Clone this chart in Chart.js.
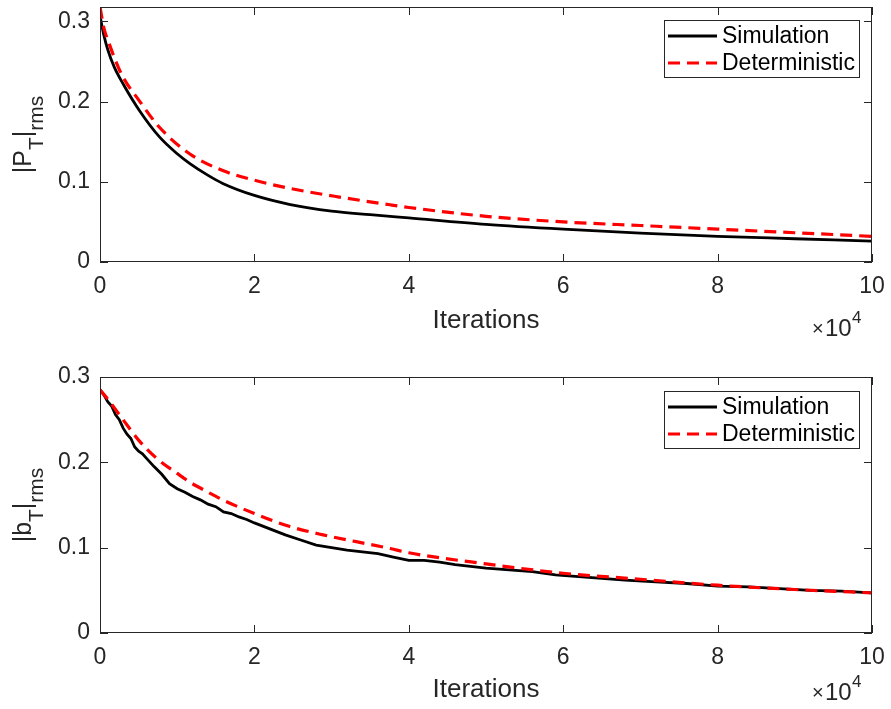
<!DOCTYPE html>
<html>
<head>
<meta charset="utf-8">
<script src="https://cdn.jsdelivr.net/npm/chart.js@4.4.1/dist/chart.umd.min.js"></script>
<style>
  body { margin: 0; background: #fff; }
  canvas { position: absolute; left: 0; }
  #top { top: 0; }
  #bot { top: 355px; }
</style>
</head>
<body>
<canvas id="top" width="891" height="350"></canvas>
<canvas id="bot" width="891" height="354"></canvas>
<script>
// iterations are in units of 1e4
const xTicks = [0, 2, 4, 6, 8, 10];
const yTicks = [0, 0.1, 0.2, 0.3];

// |P_T|_rms
const pSimX = [0, 0.05, 0.1, 0.185, 0.3, 0.51, 0.77, 1.0, 1.16, 1.4, 1.59, 2.0, 2.45, 3.0, 3.5, 4, 5, 6, 7, 8, 9, 10];
const pSimY = [0.307, 0.283, 0.265, 0.243, 0.222, 0.189, 0.156, 0.135, 0.123, 0.108, 0.098, 0.083, 0.072, 0.0635, 0.059, 0.055, 0.047, 0.041, 0.036, 0.032, 0.029, 0.026];
const pDetX = [0, 0.05, 0.12, 0.185, 0.29, 0.51, 0.77, 1.16, 1.59, 2.0, 2.45, 3.1, 3.78, 4, 5, 6, 7, 8, 9, 10];
const pDetY = [0.318, 0.292, 0.272, 0.255, 0.232, 0.201, 0.168, 0.135, 0.114, 0.102, 0.092, 0.081, 0.071, 0.068, 0.057, 0.050, 0.0455, 0.041, 0.0365, 0.032];

// |b_T|_rms
const bSimX = [0, 0.05, 0.1, 0.15, 0.2, 0.25, 0.3, 0.35, 0.4, 0.45, 0.5, 0.55, 0.6, 0.7, 0.8, 0.9, 1.0, 1.1, 1.2, 1.3, 1.4, 1.5, 1.6, 1.7, 1.8, 1.9, 2.0,
  2.2, 2.4, 2.6, 2.8, 3.0, 3.2, 3.4, 3.6, 3.8, 4.0, 4.2, 4.4, 4.6, 4.8, 5.0, 5.3, 5.6, 5.9, 6.2, 6.5, 6.8, 7.2, 7.6, 8.0, 8.4, 8.8, 9.2, 9.6, 10];
const bSimY = [0.285, 0.279, 0.271, 0.266, 0.256, 0.250, 0.240, 0.233, 0.228, 0.218, 0.213, 0.210, 0.205, 0.195, 0.186, 0.175, 0.169, 0.165, 0.160, 0.156, 0.151, 0.148, 0.142, 0.140, 0.136, 0.133, 0.129,
  0.122, 0.115, 0.109, 0.103, 0.100, 0.097, 0.095, 0.093, 0.089, 0.085, 0.085, 0.083, 0.080, 0.078, 0.076, 0.074, 0.072, 0.068, 0.066, 0.064, 0.062, 0.060, 0.058, 0.055, 0.054, 0.052, 0.050, 0.049, 0.047];
const bDetX = [0, 0.1, 0.29, 0.5, 0.73, 1.0, 1.16, 1.4, 1.59, 2.0, 2.45, 2.89, 3.32, 3.76, 4.0, 5, 6, 7, 8, 9, 10];
const bDetY = [0.285, 0.274, 0.251, 0.226, 0.205, 0.187, 0.177, 0.165, 0.156, 0.140, 0.125, 0.115, 0.107, 0.099, 0.094, 0.081, 0.070, 0.063, 0.056, 0.051, 0.047];

const FONT = '"Liberation Sans", Arial, Helvetica, sans-serif';
const AXIS = '#262626';

const pts = (xs, ys) => xs.map((x, i) => ({ x: x, y: ys[i] }));

// box, inward ticks, legend, y label with subscripts and the x10^4 note
const decor = {
  id: 'decor',
  afterDraw(chart, args, o) {
    const { ctx, chartArea: a, scales: { x, y } } = chart;
    ctx.save();
    ctx.strokeStyle = AXIS;
    ctx.lineWidth = 1;
    ctx.strokeRect(a.left + 0.5, a.top + 0.5, a.right - a.left - 1, a.bottom - a.top - 1);
    ctx.beginPath();
    x.ticks.forEach(t => {
      const px = Math.round(x.getPixelForValue(t.value)) + 0.5;
      ctx.moveTo(px, a.bottom); ctx.lineTo(px, a.bottom - 8);
      ctx.moveTo(px, a.top); ctx.lineTo(px, a.top + 8);
    });
    y.ticks.forEach(t => {
      const py = Math.round(y.getPixelForValue(t.value)) + 0.5;
      ctx.moveTo(a.left, py); ctx.lineTo(a.left + 8, py);
      ctx.moveTo(a.right, py); ctx.lineTo(a.right - 8, py);
    });
    ctx.stroke();

    // legend
    const L = o.legend;
    ctx.fillStyle = '#fff';
    ctx.fillRect(L.x, L.y, L.w, L.h);
    ctx.strokeRect(L.x + 0.5, L.y + 0.5, L.w, L.h);
    ctx.font = '23px ' + FONT;
    ctx.textBaseline = 'middle';
    ctx.textAlign = 'left';
    chart.data.datasets.forEach((ds, i) => {
      const cy = L.y + 16 + i * 27;
      ctx.save();
      ctx.strokeStyle = ds.borderColor;
      ctx.lineWidth = ds.borderWidth;
      ctx.setLineDash(ds.borderDash || []);
      ctx.beginPath();
      ctx.moveTo(L.x + 4, cy); ctx.lineTo(L.x + 53, cy);
      ctx.stroke();
      ctx.restore();
      ctx.fillStyle = '#000';
      ctx.fillText(ds.label, L.x + 58, cy + 1);
    });

    // y label, rotated, with subscripts
    ctx.save();
    ctx.fillStyle = AXIS;
    ctx.textBaseline = 'alphabetic';
    ctx.translate(31, (a.top + a.bottom) / 2);
    ctx.rotate(-Math.PI / 2);
    const parts = o.ylabel.map(p => {
      ctx.font = (p[1] ? '21px ' : '25px ') + FONT;
      return { t: p[0], sub: p[1], w: ctx.measureText(p[0]).width };
    });
    let cx = -parts.reduce((s, p) => s + p.w, 0) / 2;
    parts.forEach(p => {
      ctx.font = (p.sub ? '21px ' : '25px ') + FONT;
      ctx.fillText(p.t, cx, p.sub ? 12 : 0);
      cx += p.w;
    });
    ctx.restore();

    // x10^4
    ctx.fillStyle = AXIS;
    ctx.textBaseline = 'alphabetic';
    ctx.font = '20px ' + FONT;
    ctx.fillText('\u00d7', 812, o.expY - 1);
    ctx.font = '24px ' + FONT;
    ctx.fillText('10', 825, o.expY);
    ctx.font = '17px ' + FONT;
    ctx.fillText('4', 852, o.expY - 13);
    ctx.restore();
  }
};

function makeChart(id, sim, det, yMax, pad, xHeight, titlePad, opts) {
  return new Chart(document.getElementById(id), {
    type: 'line',
    data: {
      datasets: [{
        label: 'Simulation',
        data: sim,
        borderColor: '#000000',
        borderWidth: 2.8,
        pointRadius: 0,
        cubicInterpolationMode: opts.smooth ? 'monotone' : 'default',
        tension: 0,
        order: 1
      }, {
        label: 'Deterministic',
        data: det,
        borderColor: '#ff0000',
        borderWidth: 3.2,
        borderDash: [12, 7],
        pointRadius: 0,
        cubicInterpolationMode: 'monotone',
        order: 0
      }]
    },
    options: {
      responsive: false,
      animation: false,
      layout: { padding: { top: pad, right: 19, left: 0, bottom: 0 } },
      plugins: {
        legend: { display: false },
        tooltip: { enabled: false },
        decor: opts
      },
      scales: {
        x: {
          type: 'linear', min: 0, max: 10,
          afterBuildTicks: s => { s.ticks = xTicks.map(v => ({ value: v })); },
          afterFit: s => { s.height = xHeight; s.paddingLeft = 0; s.paddingRight = 0; },
          grid: { display: false, drawTicks: false },
          border: { display: false },
          ticks: { color: AXIS, font: { family: FONT, size: 23 }, padding: 11, maxRotation: 0, autoSkip: false },
          title: { display: true, text: 'Iterations', color: AXIS, font: { family: FONT, size: 26 }, padding: { top: 0, bottom: titlePad } }
        },
        y: {
          min: 0, max: yMax,
          afterBuildTicks: s => { s.ticks = yTicks.map(v => ({ value: v })); },
          afterFit: s => { s.width = 100; s.paddingTop = 0; s.paddingBottom = 0; },
          grid: { display: false, drawTicks: false },
          border: { display: false },
          ticks: { color: AXIS, font: { family: FONT, size: 23 }, padding: 10, callback: v => String(v) }
        }
      }
    },
    plugins: [decor]
  });
}

makeChart('top', pts(pSimX, pSimY), pts(pDetX, pDetY), 0.318, 7, 88, 14, {
  smooth: true,
  legend: { x: 664, y: 20, w: 195, h: 57 },
  ylabel: [['|P', false], ['T', true], ['|', false], ['rms', true]],
  expY: 336
});

makeChart('bot', pts(bSimX, bSimY), pts(bDetX, bDetY), 0.3, 22, 76, 4, {
  smooth: false,
  legend: { x: 664, y: 36, w: 195, h: 57 },
  ylabel: [['|b', false], ['T', true], ['|', false], ['rms', true]],
  expY: 345
});
</script>
</body>
</html>
